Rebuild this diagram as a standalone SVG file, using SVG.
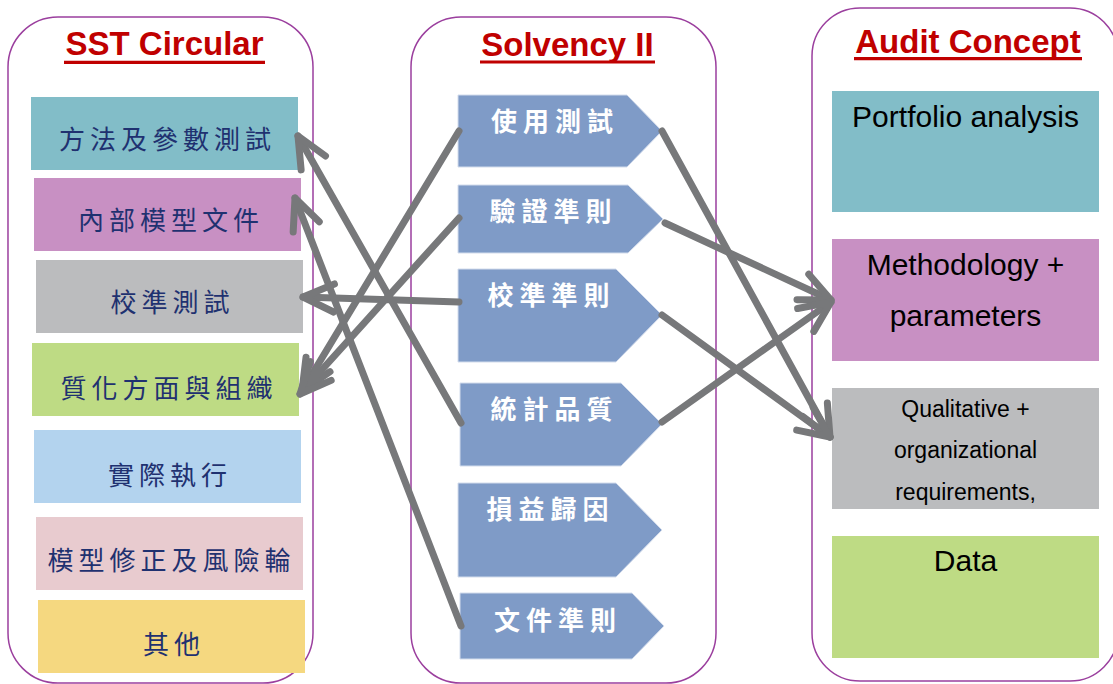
<svg xmlns="http://www.w3.org/2000/svg" width="1113" height="684" viewBox="0 0 1113 684">
  <style>
    .panel { fill: #ffffff; stroke: #9b3f9e; stroke-width: 1.5; }
    .title { font-family: 'Liberation Sans', Arial, sans-serif; font-weight: bold; font-size: 33px; fill: #c00000; text-anchor: middle; }
    .uline { stroke: #c00000; stroke-width: 3.2; }
    .sst { font-family: 'Noto Sans CJK TC', 'Noto Sans CJK SC', sans-serif; font-size: 26px; letter-spacing: 5px; fill: #1f3170; text-anchor: middle; }
    .chev { fill: #7f9bc7; stroke: #d3dcec; stroke-width: 1; }
    .sii { font-family: 'Noto Sans CJK TC', 'Noto Sans CJK SC', sans-serif; font-size: 26px; letter-spacing: 6px; fill: #ffffff; font-weight: bold; text-anchor: middle; }
    .aud { font-family: 'Liberation Sans', Arial, sans-serif; font-size: 30px; fill: #000000; text-anchor: middle; }
    .auds { font-family: 'Liberation Sans', Arial, sans-serif; font-size: 23px; fill: #000000; text-anchor: middle; }
    .link { fill: none; stroke: #77787a; stroke-width: 7; stroke-linecap: round; marker-end: url(#vhead); }
  </style>
  <defs>
    <marker id="vhead" markerUnits="userSpaceOnUse" orient="auto" viewBox="-45 -25 50 50" markerWidth="50" markerHeight="50" refX="0" refY="0">
      <path d="M-31,-14 L0,0 L-31,14" fill="none" stroke="#77787a" stroke-width="7" stroke-linecap="round" stroke-linejoin="round"/>
    </marker>
  </defs>

  <rect width="1113" height="684" fill="#ffffff"/>

  <!-- column frames -->
  <g id="col-sst">
    <rect class="panel" x="8" y="17" width="305" height="666" rx="50" ry="50"/>
    <text class="title" x="164.5" y="55">SST Circular</text>
    <line class="uline" x1="64" y1="62.3" x2="265" y2="62.3"/>
  </g>
  <g id="col-solvency">
    <rect class="panel" x="411" y="17" width="305" height="666" rx="50" ry="50"/>
    <text class="title" x="567.5" y="56">Solvency II</text>
    <line class="uline" x1="480" y1="62" x2="655" y2="62"/>
  </g>
  <g id="col-audit">
    <rect class="panel" x="812" y="8" width="306" height="673" rx="48" ry="48"/>
    <text class="title" x="968" y="53">Audit Concept</text>
    <line class="uline" x1="854" y1="58.7" x2="1082" y2="58.7"/>
  </g>

  <!-- SST Circular items -->
  <g id="sst-1">
    <rect x="31" y="97" width="267" height="73" fill="#82bdc8"/>
    <text class="sst" x="167.5" y="149">方法及參數測試</text>
  </g>
  <g id="sst-2">
    <rect x="34" y="178" width="267" height="73" fill="#c890c3"/>
    <text class="sst" x="171" y="230">內部模型文件</text>
  </g>
  <g id="sst-3">
    <rect x="36" y="260" width="267" height="73" fill="#bbbcbe"/>
    <text class="sst" x="172.5" y="311.5">校準測試</text>
  </g>
  <g id="sst-4">
    <rect x="32" y="343" width="267" height="73" fill="#bedb84"/>
    <text class="sst" x="169" y="397.5">質化方面與組織</text>
  </g>
  <g id="sst-5">
    <rect x="34" y="430" width="267" height="73" fill="#b3d3ee"/>
    <text class="sst" x="170" y="484.5">實際執行</text>
  </g>
  <g id="sst-6">
    <rect x="36" y="517" width="267" height="73" fill="#e8cbcf"/>
    <text class="sst" x="171.5" y="570">模型修正及風險輪</text>
  </g>
  <g id="sst-7">
    <rect x="38" y="600" width="267" height="73" fill="#f5d880"/>
    <text class="sst" x="174" y="653.5">其他</text>
  </g>

  <!-- Solvency II items -->
  <g id="sii-1">
    <polygon class="chev" points="458,95 627,95 662,131 627,167 458,167"/>
    <text class="sii" x="555" y="130.5">使用測試</text>
  </g>
  <g id="sii-2">
    <polygon class="chev" points="458,185 628,185 663,219 628,253 458,253"/>
    <text class="sii" x="553.5" y="220.5">驗證準則</text>
  </g>
  <g id="sii-3">
    <polygon class="chev" points="458,269 616,269 662,315 616,362 458,362"/>
    <text class="sii" x="551.5" y="305">校準準則</text>
  </g>
  <g id="sii-4">
    <polygon class="chev" points="460,383 621,383 662,424 621,466 460,466"/>
    <text class="sii" x="554.5" y="419">統計品質</text>
  </g>
  <g id="sii-5">
    <polygon class="chev" points="458,483 616,483 662,530 616,577 458,577"/>
    <text class="sii" x="550.5" y="518.5">損益歸因</text>
  </g>
  <g id="sii-6">
    <polygon class="chev" points="460,593 632,593 664,626 632,659 460,659"/>
    <text class="sii" x="558" y="629.5">文件準則</text>
  </g>

  <!-- Audit Concept items -->
  <g id="aud-1">
    <rect x="832" y="91" width="267" height="121" fill="#82bdc8"/>
    <text class="aud" x="965.5" y="126.5">Portfolio analysis</text>
  </g>
  <g id="aud-2">
    <rect x="832" y="239" width="267" height="122" fill="#c890c3"/>
    <text class="aud" x="965.5" y="275">Methodology +</text>
    <text class="aud" x="965.5" y="326">parameters</text>
  </g>
  <g id="aud-3">
    <rect x="832" y="388" width="267" height="121" fill="#bbbcbe"/>
    <text class="auds" x="965.5" y="417">Qualitative +</text>
    <text class="auds" x="965.5" y="458">organizational</text>
    <text class="auds" x="965.5" y="500">requirements,</text>
  </g>
  <g id="aud-4">
    <rect x="832" y="536" width="267" height="122" fill="#bedb84"/>
    <text class="aud" x="965.5" y="571">Data</text>
  </g>

  <!-- mappings -->
  <g id="connectors">
    <line class="link" x1="459" y1="131" x2="302" y2="391"/>
    <line class="link" x1="459" y1="218" x2="300" y2="394"/>
    <line class="link" x1="459" y1="302" x2="303" y2="297"/>
    <line class="link" x1="461" y1="423" x2="298" y2="136"/>
    <line class="link" x1="461" y1="626" x2="295" y2="198"/>
    <line class="link" x1="662" y1="131" x2="830" y2="437"/>
    <line class="link" x1="665" y1="223" x2="831" y2="300"/>
    <line class="link" x1="662" y1="315" x2="830" y2="437"/>
    <line class="link" x1="662" y1="422" x2="831" y2="302"/>
  </g>
</svg>
